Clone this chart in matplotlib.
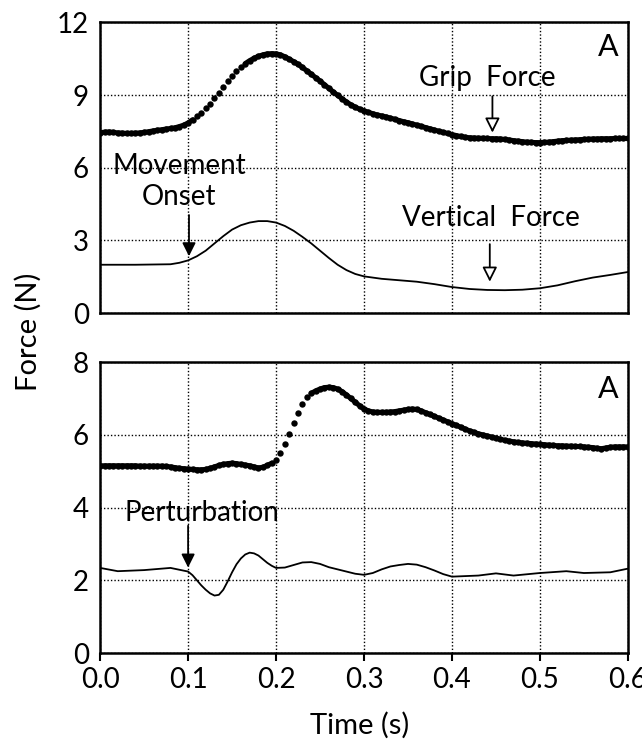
import numpy as np
import matplotlib
matplotlib.use("Agg")
import matplotlib.pyplot as plt

plt.rcParams["font.family"] = ["Lato", "DejaVu Sans"]

grip_t = np.arange(121) * 0.005
grip_top = [
	7.45, 7.47, 7.48, 7.46, 7.44, 7.43, 7.42, 7.42, 7.43, 7.44,
	7.46, 7.49, 7.52, 7.55, 7.57, 7.60, 7.62, 7.65, 7.70, 7.76,
	7.85, 7.98, 8.12, 8.28, 8.45, 8.65, 8.87, 9.10, 9.35, 9.58,
	9.80, 9.98, 10.15, 10.30, 10.42, 10.52, 10.60, 10.66, 10.70, 10.71,
	10.70, 10.66, 10.58, 10.48, 10.38, 10.27, 10.14, 10.00, 9.86, 9.72,
	9.58, 9.43, 9.28, 9.13, 8.99, 8.85, 8.72, 8.60, 8.50, 8.42,
	8.35, 8.29, 8.23, 8.18, 8.14, 8.10, 8.05, 8.00, 7.95, 7.90,
	7.86, 7.81, 7.76, 7.71, 7.66, 7.61, 7.56, 7.51, 7.46, 7.42,
	7.37, 7.33, 7.29, 7.26, 7.24, 7.23, 7.22, 7.22, 7.21, 7.20,
	7.20, 7.19, 7.17, 7.15, 7.12, 7.10, 7.08, 7.06, 7.05, 7.04,
	7.04, 7.05, 7.06, 7.08, 7.10, 7.12, 7.13, 7.14, 7.15, 7.16,
	7.17, 7.18, 7.19, 7.19, 7.20, 7.20, 7.20, 7.21, 7.21, 7.21,
	7.21,
]
grip_bottom = [
	5.15, 5.15, 5.15, 5.15, 5.15, 5.15, 5.15, 5.15, 5.15, 5.14,
	5.14, 5.14, 5.14, 5.14, 5.14, 5.13, 5.12, 5.10, 5.08, 5.07,
	5.06, 5.05, 5.04, 5.04, 5.05, 5.08, 5.12, 5.16, 5.19, 5.21,
	5.22, 5.21, 5.19, 5.17, 5.15, 5.12, 5.09, 5.11, 5.16, 5.22,
	5.30, 5.50, 5.75, 6.03, 6.32, 6.60, 6.85, 7.03, 7.14, 7.21,
	7.26, 7.30, 7.31, 7.30, 7.26, 7.19, 7.10, 7.00, 6.90, 6.80,
	6.71, 6.66, 6.63, 6.62, 6.62, 6.62, 6.63, 6.64, 6.66, 6.68,
	6.70, 6.71, 6.70, 6.66, 6.61, 6.56, 6.51, 6.46, 6.41, 6.36,
	6.31, 6.26, 6.21, 6.16, 6.11, 6.07, 6.03, 6.00, 5.97, 5.94,
	5.91, 5.88, 5.85, 5.83, 5.81, 5.79, 5.78, 5.77, 5.76, 5.75,
	5.74, 5.73, 5.72, 5.71, 5.70, 5.70, 5.69, 5.69, 5.68, 5.68,
	5.67, 5.66, 5.65, 5.63, 5.62, 5.64, 5.66, 5.67, 5.67, 5.67,
	5.67,
]

# vertical (load) force
vert_top_t = [0.0, 0.04, 0.08, 0.09, 0.1, 0.11, 0.12, 0.13, 0.14, 0.15,
              0.16, 0.17, 0.18, 0.19, 0.2, 0.21, 0.22, 0.23, 0.24, 0.25,
              0.26, 0.27, 0.28, 0.29, 0.3, 0.32, 0.34, 0.36, 0.38, 0.4,
              0.42, 0.44, 0.46, 0.48, 0.5, 0.52, 0.54, 0.56, 0.58, 0.6]
vert_top = [2.0, 2.0, 2.02, 2.08, 2.18, 2.35, 2.58, 2.88, 3.18, 3.45,
            3.63, 3.74, 3.8, 3.8, 3.74, 3.6, 3.4, 3.15, 2.88, 2.58,
            2.28, 2.0, 1.78, 1.62, 1.52, 1.42, 1.36, 1.3, 1.2, 1.08,
            1.0, 0.96, 0.95, 0.97, 1.03, 1.15, 1.32, 1.47, 1.58, 1.7]

vert_bot_t = [0.0, 0.02, 0.05, 0.08, 0.1, 0.105, 0.11, 0.115, 0.12, 0.125,
              0.13, 0.135, 0.14, 0.145, 0.15, 0.155, 0.16, 0.165, 0.17,
              0.175, 0.18, 0.185, 0.19, 0.195, 0.2, 0.21, 0.22, 0.23, 0.24,
              0.25, 0.26, 0.28, 0.29, 0.3, 0.31, 0.32, 0.33, 0.34, 0.35,
              0.36, 0.37, 0.38, 0.39, 0.4, 0.43, 0.45, 0.47, 0.5, 0.53,
              0.55, 0.58, 0.6]
vert_bot = [2.34, 2.25, 2.28, 2.34, 2.24, 2.14, 2.0, 1.86, 1.74, 1.64,
            1.58, 1.6, 1.74, 1.97, 2.22, 2.44, 2.6, 2.71, 2.76,
            2.74, 2.68, 2.58, 2.48, 2.4, 2.34, 2.35, 2.42, 2.49, 2.5,
            2.45, 2.36, 2.24, 2.18, 2.15, 2.2, 2.3, 2.38, 2.42, 2.45,
            2.43, 2.36, 2.27, 2.17, 2.1, 2.13, 2.19, 2.13, 2.2, 2.25,
            2.2, 2.22, 2.32]

x_ticks = [0.0, 0.1, 0.2, 0.3, 0.4, 0.5, 0.6]
x_labels = ["0.0", "0.1", "0.2", "0.3", "0.4", "0.5", "0.6"]
top_yticks = [0, 3, 6, 9, 12]
bot_yticks = [0, 2, 4, 6, 8]

FS = 20


def style_axes(ax, yticks):
	ax.set_xlim(0, 0.6)
	ax.set_ylim(yticks[0], yticks[-1])
	ax.set_xticks(x_ticks)
	ax.set_yticks(yticks)
	ax.set_yticklabels([str(v) for v in yticks])
	for s in ax.spines.values():
		s.set_linewidth(1.8)
	ax.grid(True, color="black", linestyle=(0, (1, 1.5)), linewidth=1.0)
	ax.tick_params(axis="y", length=0, pad=8, labelsize=FS)


def plot_grip(ax, t, values, max_step):
	"""Sampled grip force: dots that merge into a thick trace where it changes slowly."""
	v = np.asarray(values, dtype=float)
	ax.plot(t, v, "o", color="black", markersize=4.6, markeredgewidth=0)
	joined = np.ma.masked_array(v.copy())
	steep = np.abs(np.diff(v)) > max_step
	# break the trace around each steep step so only the dots show there
	for i in np.where(steep)[0]:
		joined[i] = np.ma.masked
		joined[i + 1] = np.ma.masked
	ax.plot(t, joined, color="black", linewidth=3.6, solid_capstyle="round")


fig = plt.figure(figsize=(6.42, 7.44), dpi=100)
ax1 = fig.add_axes([0.156, 0.579, 0.822, 0.391])
ax2 = fig.add_axes([0.156, 0.1223, 0.822, 0.391])

# top panel
style_axes(ax1, top_yticks)
ax1.tick_params(axis="x", length=0, labelbottom=False)
plot_grip(ax1, grip_t, grip_top, 0.16)
ax1.plot(vert_top_t, vert_top, color="black", linewidth=1.3)
ax1.text(0.578, 11.0, "A", fontsize=FS + 2, ha="center", va="center")
ax1.text(0.44, 9.72, "Grip  Force", fontsize=FS, ha="center", va="center")
ax1.annotate("", xy=(0.446, 7.45), xytext=(0.446, 8.95),
             arrowprops=dict(arrowstyle="-|>", fc="white", ec="black",
                             lw=1.3, mutation_scale=22, shrinkA=0, shrinkB=0))
ax1.text(0.09, 5.42, "Movement\nOnset", fontsize=FS, ha="center", va="center",
         linespacing=1.25)
ax1.annotate("", xy=(0.101, 2.35), xytext=(0.101, 4.05),
             arrowprops=dict(arrowstyle="-|>", fc="black", ec="black",
                             lw=1.3, mutation_scale=20, shrinkA=0, shrinkB=0))
ax1.text(0.444, 3.93, "Vertical  Force", fontsize=FS, ha="center", va="center")
ax1.annotate("", xy=(0.443, 1.3), xytext=(0.443, 2.85),
             arrowprops=dict(arrowstyle="-|>", fc="white", ec="black",
                             lw=1.3, mutation_scale=22, shrinkA=0, shrinkB=0))

# bottom panel
style_axes(ax2, bot_yticks)
ax2.set_xticklabels(x_labels)
ax2.tick_params(axis="x", direction="out", length=6, width=1.5, pad=4,
                labelsize=FS)
plot_grip(ax2, grip_t, grip_bottom, 0.12)
ax2.plot(vert_bot_t, vert_bot, color="black", linewidth=1.3)
ax2.text(0.578, 7.26, "A", fontsize=FS + 2, ha="center", va="center")
ax2.text(0.116, 3.86, "Perturbation", fontsize=FS, ha="center", va="center")
ax2.annotate("", xy=(0.1, 2.35), xytext=(0.1, 3.5),
             arrowprops=dict(arrowstyle="-|>", fc="black", ec="black",
                             lw=1.3, mutation_scale=20, shrinkA=0, shrinkB=0))

fig.text(28 / 642, 1 - 332 / 744, "Force (N)", rotation=90, fontsize=FS + 1,
         ha="center", va="center")
fig.text(360 / 642, 1 - 725 / 744, "Time (s)", fontsize=FS + 1,
         ha="center", va="center")

fig.savefig("out.png", dpi=100)
